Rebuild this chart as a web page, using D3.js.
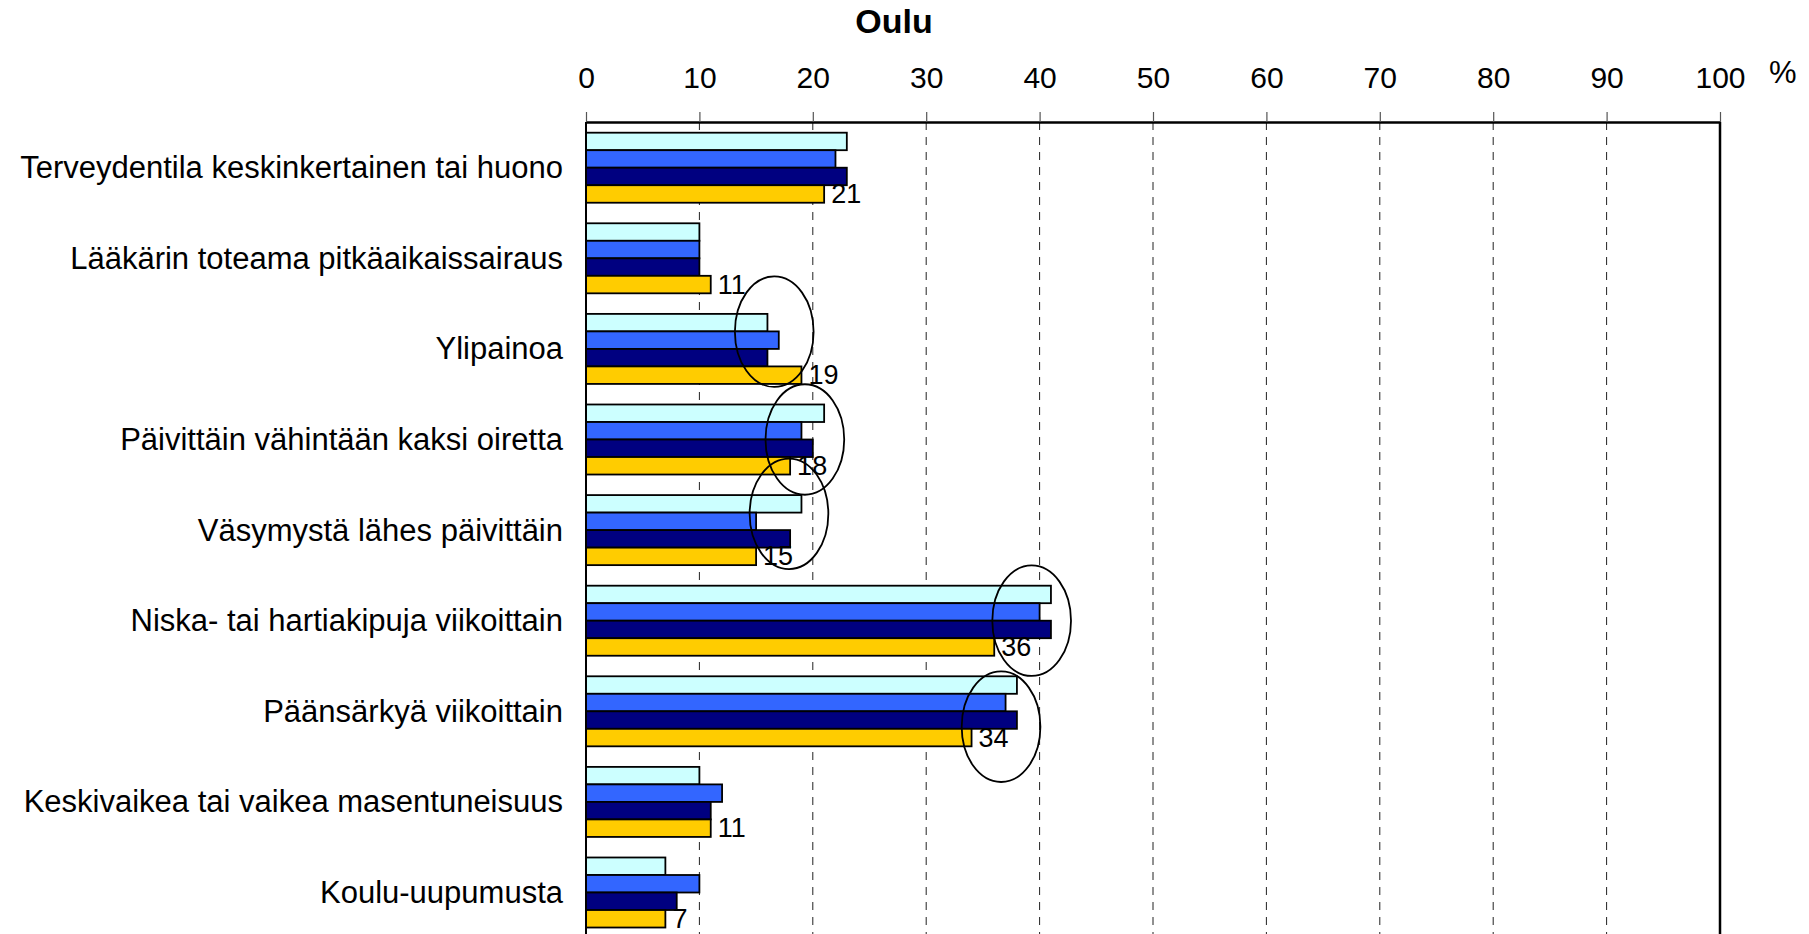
<!DOCTYPE html>
<html>
<head>
<meta charset="utf-8">
<script src="https://cdn.jsdelivr.net/npm/d3@7"></script>
<style>
  html, body { margin: 0; padding: 0; background: #fff; }
  svg { display: block; font-family: "Liberation Sans", Arial, sans-serif; }
</style>
</head>
<body>
<svg id="chart" width="1809" height="934"></svg>
<script>
// ---- Data ----
const title = "Oulu";
const categories = [
  "Terveydentila keskinkertainen tai huono",
  "Lääkärin toteama pitkäaikaissairaus",
  "Ylipainoa",
  "Päivittäin vähintään kaksi oiretta",
  "Väsymystä lähes päivittäin",
  "Niska- tai hartiakipuja viikoittain",
  "Päänsärkyä viikoittain",
  "Keskivaikea tai vaikea masentuneisuus",
  "Koulu-uupumusta"
];
const series1 = [23, 10, 16, 21, 19, 41, 38, 10, 7];
const series2 = [22, 10, 17, 19, 15, 40, 37, 12, 10];
const series3 = [23, 10, 16, 20, 18, 41, 38, 11, 8];
const series4 = [21, 11, 19, 18, 15, 36, 34, 11, 7];
const tickValues = [0, 10, 20, 30, 40, 50, 60, 70, 80, 90, 100];
const unitLabel = "%";
// Circled (highlighted) categories and the value each circle is centred on
const circledCategories = [
  "Ylipainoa",
  "Päivittäin vähintään kaksi oiretta",
  "Väsymystä lähes päivittäin",
  "Niska- tai hartiakipuja viikoittain",
  "Päänsärkyä viikoittain"
];
const circleCenters = [16.6, 19.3, 17.9, 39.3, 36.6];

// ---- Layout / style ----
const seriesList = [series1, series2, series3, series4];
const colors = ["#CCFFFF", "#3366FF", "#000080", "#FFCC00"];
const circleShift = [-0.19, 0, -0.18, 0, 0.17]; // vertical shift, fraction of band step
const plotLeft = 586, plotRight = 1720, plotTop = 122;
const step = 90.6;
const padInner = 0.227, padOuter = 0.118;
const plotBottom = 960;

const svg = d3.select("#chart");

const x = d3.scaleLinear().domain([0, 100]).range([plotLeft, plotRight]);
const yEnd = plotTop + step * (categories.length - padInner + 2 * padOuter);
const y = d3.scaleBand().domain(categories).range([plotTop, yEnd])
  .paddingInner(padInner).paddingOuter(padOuter);
const ySub = d3.scaleBand().domain(d3.range(seriesList.length)).range([0, y.bandwidth()]);

// dashed gridlines
svg.append("g").selectAll("line")
  .data(tickValues.filter(t => t > 0 && t < 100))
  .join("line")
  .attr("x1", d => x(d)).attr("x2", d => x(d))
  .attr("y1", plotTop).attr("y2", plotBottom)
  .attr("stroke", "#222").attr("stroke-width", 1)
  .attr("stroke-dasharray", "8,7");

// bars
const groups = svg.append("g").selectAll("g")
  .data(categories)
  .join("g")
  .attr("transform", d => `translate(0,${y(d)})`);

groups.selectAll("rect")
  .data((d, i) => seriesList.map((s, k) => ({ k, v: s[i] })))
  .join("rect")
  .attr("x", x(0))
  .attr("y", d => ySub(d.k))
  .attr("width", d => x(d.v) - x(0))
  .attr("height", ySub.bandwidth())
  .attr("fill", d => colors[d.k])
  .attr("stroke", "#000")
  .attr("stroke-width", 1.8);

// value labels for last series
groups.append("text")
  .attr("x", (d, i) => x(series4[i]) + 7)
  .attr("y", ySub(3) + ySub.bandwidth() / 2)
  .attr("dominant-baseline", "central")
  .attr("font-size", 27)
  .attr("fill", "#000")
  .text((d, i) => series4[i]);

// plot frame: left, right
svg.append("line").attr("x1", x(0)).attr("x2", x(0)).attr("y1", plotTop).attr("y2", plotBottom)
  .attr("stroke", "#000").attr("stroke-width", 2);
svg.append("line").attr("x1", x(100)).attr("x2", x(100)).attr("y1", plotTop).attr("y2", plotBottom)
  .attr("stroke", "#000").attr("stroke-width", 2.5);

// top axis
const axis = d3.axisTop(x).tickValues(tickValues).tickSize(10).tickSizeOuter(0).tickPadding(24);
const ag = svg.append("g").attr("transform", `translate(0,${plotTop})`).call(axis);
ag.select(".domain").attr("stroke", "#000").attr("stroke-width", 2.5);
ag.selectAll(".tick line").attr("stroke", "#555").attr("stroke-width", 1.2);
ag.selectAll(".tick text")
  .attr("font-size", 30).attr("fill", "#000")
  .attr("font-family", "'Liberation Sans', Arial, sans-serif");

// unit label
svg.append("text").attr("x", x(100) + 49).attr("y", 83)
  .attr("font-size", 31).attr("fill", "#000").text(unitLabel);

// category labels
svg.append("g").selectAll("text")
  .data(categories)
  .join("text")
  .attr("x", 563)
  .attr("y", d => y(d) + y.bandwidth() / 2)
  .attr("text-anchor", "end")
  .attr("dominant-baseline", "central")
  .attr("font-size", 31)
  .attr("fill", "#000")
  .text(d => d);

// circles (ellipses)
const unit = x(1) - x(0);
svg.append("g").selectAll("ellipse")
  .data(circledCategories)
  .join("ellipse")
  .attr("cx", (d, i) => x(circleCenters[i]))
  .attr("cy", (d, i) => y(d) + y.bandwidth() / 2 + circleShift[i] * step)
  .attr("rx", 3.47 * unit)
  .attr("ry", 0.61 * step)
  .attr("fill", "none")
  .attr("stroke", "#000")
  .attr("stroke-width", 1.8);

// title
svg.append("text").attr("x", 894).attr("y", 33)
  .attr("text-anchor", "middle")
  .attr("font-size", 34).attr("font-weight", "bold").attr("fill", "#000")
  .text(title);
</script>
</body>
</html>
